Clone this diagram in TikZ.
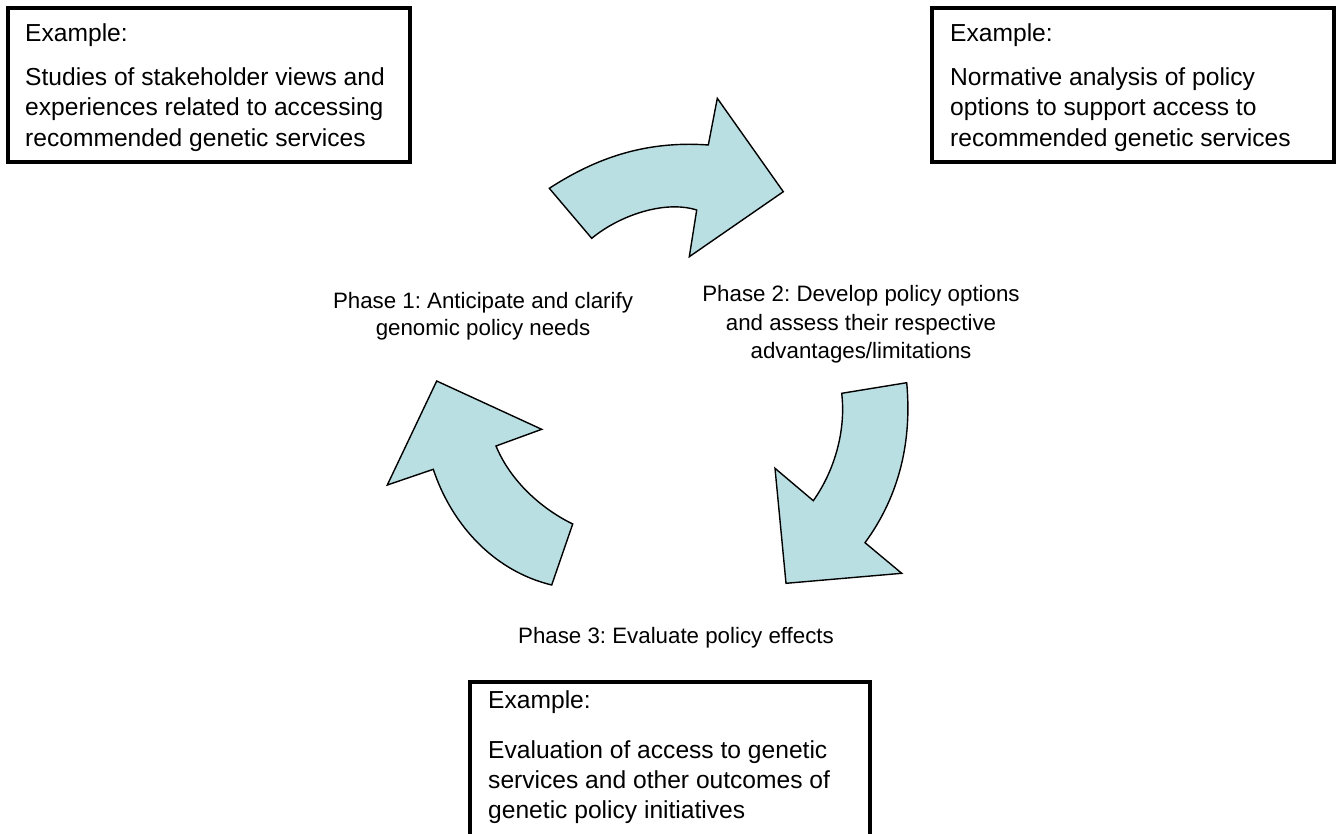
\documentclass[tikz,border=0pt]{standalone}
\usepackage{fontspec}
\setmainfont{Liberation Sans}
\frenchspacing
\definecolor{arrowfill}{RGB}{185,223,227}
\begin{document}
\begin{tikzpicture}[x=1pt,y=-1pt,
  exbox/.style={draw=black,line width=3.2pt},
  cyc/.style={fill=arrowfill,draw=black,line width=1.4pt,line join=miter},
  boxtxt/.style={anchor=base west,inner sep=0pt,align=left,font=\fontsize{24.6}{30.8}\selectfont},
  phasetxt/.style={anchor=base,inner sep=0pt,align=center,font=\fontsize{22.3}{28.3}\selectfont}]
\useasboundingbox (0,0) rectangle (1340,833);
\clip (0,0) rectangle (1340,833);
% example boxes
\draw[exbox] (8,8) rectangle (410,162);
\draw[exbox] (932,8) rectangle (1334,162);
\draw[exbox] (470,682) rectangle (870,845);
\node[boxtxt] (ex1) at (25,41.5) {Example:};
\node[boxtxt] (b1) at (25,146.6) {Studies of stakeholder views and\\experiences related to accessing\\recommended genetic services};
\node[boxtxt] (ex2) at (950,41.5) {Example:};
\node[boxtxt] (b2) at (950,146.6) {Normative analysis of policy\\options to support access to\\recommended genetic services};
\node[boxtxt] (ex3) at (488,708) {Example:};
\node[boxtxt,font=\fontsize{24.6}{30}\selectfont] (b3) at (488,818) {Evaluation of access to genetic\\services and other outcomes of\\genetic policy initiatives};
% cycle arrows
\draw[cyc] (549.3,188.3) .. controls (590,162) and (640,140) .. (708.3,145) -- (717.3,98.3) -- (783.3,191.7) -- (689.3,256.7) -- (696.7,210) .. controls (665,200) and (620,215) .. (591.7,238.3) -- cycle;
\draw[cyc] (841.7,393.3) -- (906.7,382.7) .. controls (912,440) and (900,495) .. (865,542.7) -- (901.7,573.3) -- (786,583.3) -- (775,468.3) -- (813.3,500.7) .. controls (835,470) and (846,430) .. (841.7,393.3) -- cycle;
\draw[cyc] (551.7,585) -- (572.7,524) .. controls (540,508) and (510,480) .. (496,446) -- (541.7,429.3) -- (436.7,381) -- (387.3,485) -- (433.3,469.3) .. controls (450,520) and (490,570) .. (551.7,585) -- cycle;
% phase labels
\node[phasetxt,font=\fontsize{22.3}{27}\selectfont] (p1) at (483,335) {Phase 1: Anticipate and clarify\\genomic policy needs};
\node[phasetxt] (p2) at (861,358.3) {Phase 2: Develop policy options\\and assess their respective\\advantages/limitations};
\node[phasetxt] (p3) at (676,643) {Phase 3: Evaluate policy effects};
\end{tikzpicture}
\end{document}
